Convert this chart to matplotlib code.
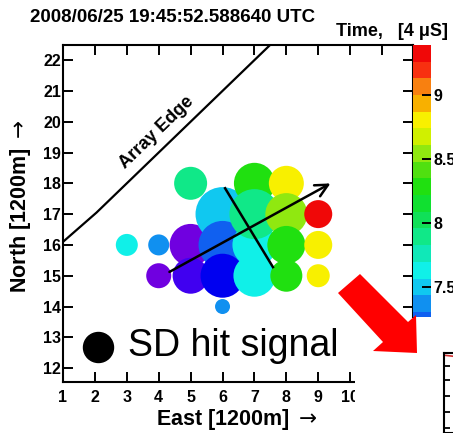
import numpy as np
import matplotlib
matplotlib.use("Agg")
import matplotlib.pyplot as plt
from matplotlib.colors import ListedColormap, BoundaryNorm
from matplotlib.patches import Polygon, Rectangle

plt.rcParams['font.family'] = ['Liberation Sans', 'DejaVu Sans']

### DATOS
### ------------------

# posiciones de los detectores (unidades de 1200 m)
east = [3, 4, 4, 5, 5, 5, 6, 6, 6, 6, 7, 7, 7, 7, 8, 8, 8, 8, 9, 9, 9]
north = [16, 16, 15, 18, 16, 15, 17, 16, 15, 14, 18, 16, 17, 15, 18, 17, 16, 15, 17, 16, 15]
# radio del circulo (senal) en pixeles
signal = [11, 10.5, 12.5, 16.5, 21, 18, 27, 24, 22, 7.5, 20.5, 22, 25, 21, 17.5, 21, 19, 16, 14, 14, 11.5]
# tiempo de llegada [4 us]
time = [7.63, 7.37, 6.72, 7.95, 6.74, 6.85, 7.50, 7.20, 6.98, 7.40, 8.30, 7.66, 7.90, 7.60,
        8.80, 8.55, 8.35, 8.28, 9.33, 8.80, 8.80]

# borde del arreglo y eje de la lluvia
edge_x = [1.0, 2.05, 7.5]
edge_y = [16.1, 17.05, 22.5]
core_start = (4.26, 15.08)
core_end = (9.46, 18.04)
perp_x = [6.08, 7.58]
perp_y = [17.84, 15.28]

cbar_ticks = [7.5, 8, 8.5, 9]
band_colors = ['#7000e0', '#4000f0', '#0000f0', '#0030f0', '#1060f0', '#1090f0', '#10c8f0',
               '#10f0e8', '#10e8b8', '#10e888', '#10e058', '#10e030', '#20e010', '#50e010',
               '#90e810', '#d0f000', '#f8f000', '#f8b000', '#f88010', '#f83010', '#f00808']
t_top = 9.39
step = 0.13

### FIGURA
### ------------------

W, H = 453, 433
fig = plt.figure(figsize=(W / 100, H / 100), dpi=100)

def fx(px):
    return px / W

def fy(py):
    return 1 - py / H

bounds = t_top - step * np.arange(len(band_colors) + 1)[::-1]
cmap = ListedColormap(band_colors)
norm = BoundaryNorm(bounds, cmap.N)

ax = fig.add_axes([fx(63), fy(382), fx(413) - fx(63), fy(45) - fy(382)])
ax.set_xlim(1, 11.97)
ax.set_ylim(11.55, 22.49)

ax.plot(edge_x, edge_y, color='black', lw=1.6)
ax.text(3.95, 19.66, 'Array Edge', rotation=44, ha='center', va='center',
        fontsize=13, fontweight='bold')

sizes = [(1.44 * r) ** 2 for r in signal]
ax.scatter(east, north, s=sizes, c=time, cmap=cmap, norm=norm, edgecolors='none', zorder=2)

ax.annotate('', xy=core_end, xytext=core_start,
            arrowprops=dict(arrowstyle='->,head_length=0.9,head_width=0.45', lw=1.8, color='black'),
            zorder=3)
ax.plot(perp_x, perp_y, color='black', lw=1.8, zorder=3)

# leyenda
ax.scatter([2.1], [12.7], s=(1.44 * 15) ** 2, color='black', zorder=3)
ax.text(3.05, 12.72, 'SD hit signal', fontsize=27, va='center', ha='left')

ax.set_xticks(range(1, 12))
ax.set_xticklabels([str(i) for i in range(1, 11)] + [''])
ax.set_yticks(range(12, 23))
ax.tick_params(direction='in', length=7, width=1.4, top=True, right=True, labelsize=11.5)
ax.tick_params(axis='x', pad=6)
ax.tick_params(axis='y', pad=1.5)
for lab in ax.get_xticklabels() + ax.get_yticklabels():
    lab.set_fontweight('bold')
for sp in ax.spines.values():
    sp.set_linewidth(1.5)

fig.text(fx(237), fy(419), r'East [1200m] $\rightarrow$', ha='center', va='center',
         fontsize=15.5, fontweight='bold')
fig.text(fx(21), fy(206), r'North [1200m] $\rightarrow$', ha='center', va='center',
         fontsize=15.5, fontweight='bold', rotation=90)
fig.text(fx(30), fy(17), '2008/06/25 19:45:52.588640 UTC', ha='left', va='center',
         fontsize=13.5, fontweight='bold')
fig.text(fx(448), fy(32), 'Time,   [4 \u03bcS]', ha='right', va='center',
         fontsize=13, fontweight='bold')

# barra de color
cax = fig.add_axes([fx(413), fy(317), fx(431) - fx(413), fy(45) - fy(317)])
cax.pcolormesh([0, 1], bounds, np.array(bounds[:-1] + step / 2)[:, None], cmap=cmap, norm=norm)
cax.set_ylim(7.27, t_top)
cax.set_xlim(0, 1)
for sp in cax.spines.values():
    sp.set_visible(False)
cax.set_xticks([])
cax.yaxis.tick_right()
cax.set_yticks(cbar_ticks)
cax.set_yticklabels(['7.5', '8', '8.5', '9'])
cax.tick_params(axis='y', direction='in', length=6.5, width=1.4, labelsize=11.5, pad=2)
for lab in cax.get_yticklabels():
    lab.set_fontweight('bold')

# parte tapada por la siguiente imagen
fig.patches.append(Rectangle((fx(355), 0), 1 - fx(355), fy(318), transform=fig.transFigure,
                             facecolor='white', edgecolor='none', zorder=5))
arrow_px = [(360, 274), (408, 322), (416, 315), (417, 353), (373, 351), (383, 342), (338, 293)]
fig.patches.append(Polygon([(fx(x), fy(y)) for x, y in arrow_px], closed=True,
                           transform=fig.transFigure, facecolor='#ff0000', edgecolor='none', zorder=6))

mini = fig.add_axes([fx(444), 0, 0.2, fy(353)], zorder=7)
mini.set_xlim(0, 1)
mini.set_ylim(0, 5)
mini.plot([0.02, 0.25], [4.85, 4.7], color='#d03030', lw=1.2)
mini.set_xticks([])
mini.set_yticks([0.3, 1.3, 2.3, 3.3, 4.2])
mini.set_yticklabels([])
mini.tick_params(axis='y', direction='in', length=4, width=1.3)
for sp in mini.spines.values():
    sp.set_linewidth(1.5)

fig.savefig('out.png', dpi=100)
